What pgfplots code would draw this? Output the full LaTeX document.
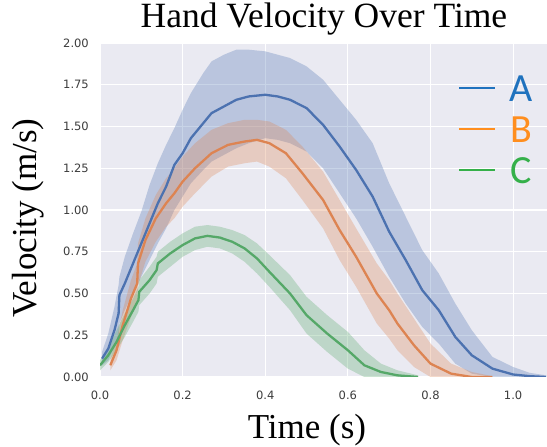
\documentclass[border=0pt]{standalone}
\usepackage{fontspec}
\setmainfont{Liberation Serif}
\newfontfamily\tickfont{DejaVu Sans}
\newfontfamily\legfont{Carlito}
\usepackage{pgfplots}
\usepackage{pgfplotstable}
\pgfplotsset{compat=1.18}
\usepgfplotslibrary{fillbetween}
\usetikzlibrary{calc}

\definecolor{bgc}{HTML}{EAEAF2}
\definecolor{cA}{HTML}{4C72B0}
\definecolor{cB}{HTML}{DD8452}
\definecolor{cC}{HTML}{55A868}
\definecolor{lA}{HTML}{1F72BE}
\definecolor{lB}{HTML}{FF8E1E}
\definecolor{lC}{HTML}{35B04A}
\definecolor{tickc}{HTML}{3C3C3C}

% t = time (s), m = mean velocity, lo/hi = band
\pgfplotstableread{
t     m     hi    lo
0.005 0.11  0.15  0.07
0.020 0.17  0.26  0.10
0.035 0.28  0.42  0.18
0.045 0.38  0.55  0.24
0.047 0.49  0.60  0.32
0.060 0.56  0.72  0.40
0.080 0.68  0.86  0.50
0.100 0.80  0.99  0.60
0.120 0.92  1.15  0.70
0.140 1.04  1.28  0.80
0.160 1.14  1.39  0.89
0.180 1.27  1.49  1.00
0.200 1.34  1.60  1.08
0.220 1.43  1.70  1.16
0.250 1.52  1.82  1.24
0.270 1.58  1.89  1.29
0.300 1.62  1.93  1.33
0.330 1.66  1.96  1.37
0.360 1.68  1.96  1.40
0.400 1.69  1.95  1.43
0.430 1.68  1.93  1.42
0.460 1.66  1.91  1.40
0.500 1.61  1.86  1.35
0.540 1.51  1.78  1.25
0.580 1.38  1.66  1.10
0.620 1.24  1.54  0.95
0.660 1.08  1.40  0.78
0.700 0.87  1.16  0.60
0.740 0.70  0.96  0.44
0.780 0.52  0.76  0.30
0.820 0.40  0.62  0.20
0.860 0.24  0.44  0.08
0.900 0.13  0.28  0.02
0.950 0.05  0.12  0.00
1.000 0.015 0.06  0.00
1.040 0.005 0.025 0.00
1.080 0.00  0.01  0.00
}\Adat

\pgfplotstableread{
t     m     hi    lo
0.025 0.07  0.11  0.04
0.040 0.16  0.22  0.10
0.055 0.31  0.40  0.22
0.075 0.47  0.58  0.36
0.090 0.56  0.68  0.44
0.092 0.68  0.80  0.55
0.110 0.82  0.95  0.69
0.135 0.95  1.09  0.81
0.160 1.04  1.19  0.90
0.180 1.10  1.25  0.95
0.200 1.17  1.32  1.02
0.230 1.25  1.40  1.10
0.270 1.34  1.48  1.20
0.310 1.39  1.52  1.26
0.350 1.41  1.54  1.28
0.380 1.42  1.54  1.29
0.410 1.40  1.53  1.26
0.450 1.34  1.48  1.19
0.490 1.22  1.38  1.06
0.540 1.06  1.23  0.89
0.580 0.88  1.06  0.70
0.620 0.72  0.89  0.54
0.670 0.50  0.68  0.32
0.700 0.40  0.58  0.23
0.720 0.32  0.50  0.16
0.760 0.19  0.35  0.06
0.800 0.08  0.20  0.00
0.850 0.02  0.08  0.00
0.900 0.00  0.03  0.00
0.950 0.00  0.005 0.00
}\Bdat

\pgfplotstableread{
t     m     hi    lo
0.000 0.07  0.10  0.04
0.020 0.13  0.18  0.09
0.040 0.21  0.28  0.16
0.060 0.31  0.38  0.24
0.080 0.40  0.47  0.33
0.093 0.46  0.54  0.39
0.095 0.51  0.58  0.43
0.120 0.58  0.66  0.50
0.137 0.64  0.72  0.56
0.140 0.68  0.75  0.60
0.170 0.74  0.81  0.66
0.200 0.79  0.86  0.72
0.230 0.83  0.90  0.76
0.260 0.845 0.91  0.78
0.290 0.835 0.90  0.77
0.320 0.81  0.88  0.74
0.350 0.77  0.85  0.69
0.380 0.71  0.80  0.62
0.410 0.63  0.73  0.54
0.460 0.50  0.61  0.40
0.500 0.37  0.48  0.26
0.550 0.26  0.37  0.15
0.600 0.16  0.27  0.05
0.640 0.07  0.16  0.00
0.680 0.03  0.08  0.00
0.720 0.01  0.04  0.00
0.770 0.00  0.01  0.00
}\Cdat

\begin{document}
\begin{tikzpicture}
\begin{axis}[
  name=ax,
  scale only axis,
  width=447bp, height=334bp,
  xmin=0, xmax=1.082, ymin=0, ymax=2,
  xtick={0,0.2,0.4,0.6,0.8,1.0},
  ytick={0,0.25,0.5,0.75,1,1.25,1.5,1.75,2},
  axis background/.style={fill=bgc},
  axis line style={draw=none},
  major tick length=0pt,
  grid=major,
  grid style={white, line width=1.1bp},
  /pgf/number format/assume math mode=true,
  tick label style={font=\tickfont\fontsize{11.5bp}{13bp}\selectfont, text=tickc, inner sep=0pt},
  xticklabel style={yshift=-14bp, /pgf/number format/.cd, fixed, fixed zerofill, precision=1},
  yticklabel style={xshift=-11bp, /pgf/number format/.cd, fixed, fixed zerofill, precision=2},
  title={Hand Velocity Over Time},
  title style={font=\fontsize{35.5bp}{40bp}\selectfont, at={(axis description cs:0.501,1)}, anchor=base, yshift=10bp},
  xlabel={Time (s)},
  xlabel style={font=\fontsize{35bp}{40bp}\selectfont, at={(axis description cs:0.463,-0.159)}, anchor=center},
  ylabel={Velocity (m/s)},
  ylabel style={font=\fontsize{35bp}{40bp}\selectfont, at={(axis description cs:-0.161,0.476)}, anchor=center},
  legend style={draw=none, fill=none, at={(axis description cs:0.794,0.91)}, anchor=north west,
    nodes={inner sep=0pt, text height=26bp, text depth=0pt, font=\legfont\fontsize{40bp}{45bp}\selectfont},
    row sep=15bp, /tikz/every odd column/.append style={column sep=13bp}},
  legend image code/.code={\draw[#1, line width=2.5bp] (0bp,0bp) -- (36bp,0bp);},
]
% bands
\addplot[name path=Ah, draw=none, forget plot] table[x=t,y=hi]{\Adat};
\addplot[name path=Al, draw=none, forget plot] table[x=t,y=lo]{\Adat};
\addplot[fill=cA, fill opacity=0.3, draw=none, forget plot] fill between[of=Ah and Al];
\addplot[name path=Bh, draw=none, forget plot] table[x=t,y=hi]{\Bdat};
\addplot[name path=Bl, draw=none, forget plot] table[x=t,y=lo]{\Bdat};
\addplot[fill=cB, fill opacity=0.3, draw=none, forget plot] fill between[of=Bh and Bl];
\addplot[name path=Ch, draw=none, forget plot] table[x=t,y=hi]{\Cdat};
\addplot[name path=Cl, draw=none, forget plot] table[x=t,y=lo]{\Cdat};
\addplot[fill=cC, fill opacity=0.3, draw=none, forget plot] fill between[of=Ch and Cl];
% mean lines
\addplot[cA, line width=2.3bp, forget plot] table[x=t,y=m]{\Adat};
\addplot[cB, line width=2.3bp, forget plot] table[x=t,y=m]{\Bdat};
\addplot[cC, line width=2.3bp, forget plot] table[x=t,y=m]{\Cdat};
% legend
\addlegendimage{lA}\addlegendentry{\textcolor{lA}{A}}
\addlegendimage{lB}\addlegendentry{\textcolor{lB}{B}}
\addlegendimage{lC}\addlegendentry{\textcolor{lC}{C}}
\end{axis}
\pgfresetboundingbox
\path ($(ax.south west)+(-100bp,-70bp)$) rectangle ($(ax.north east)+(0bp,43bp)$);
\end{tikzpicture}
\end{document}
